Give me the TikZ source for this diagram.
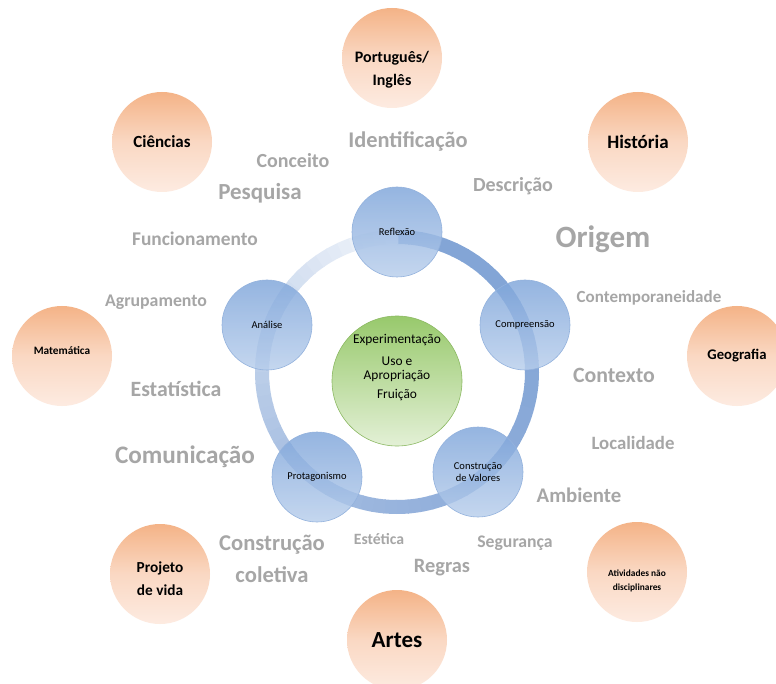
\documentclass[tikz,border=0pt]{standalone}
\usepackage{fontspec}
\setmainfont{Carlito}
\usetikzlibrary{positioning}
\definecolor{kwgray}{HTML}{A6A6A6}
\definecolor{orangetop}{HTML}{F4B387}
\definecolor{orangemid}{HTML}{FAD8C3}
\definecolor{orangebot}{HTML}{FDEBE1}
\definecolor{bluetop}{HTML}{7EA5DA}
\definecolor{bluebot}{HTML}{B8CEEC}
\definecolor{bluerim}{HTML}{93B2DD}
\definecolor{ringblue}{HTML}{7DA0D4}
\definecolor{greentop}{HTML}{98C96C}
\definecolor{greenbot}{HTML}{E3F0D6}
\definecolor{greenrim}{HTML}{8CB963}
\newcommand{\fsz}[1]{\fontsize{#1pt}{1.2\dimexpr #1pt\relax}\selectfont}
\tikzset{
  disc/.style={circle,inner sep=0pt,minimum size=100pt,top color=orangetop,bottom color=orangebot,middle color=orangemid,align=center},
  stage/.style={circle,inner sep=0pt,minimum size=90pt,draw=bluerim,line width=0.6pt,top color=bluetop,bottom color=bluebot,fill opacity=0.82,text opacity=1,align=center,font=\fsz{10.5}},
  core/.style={circle,inner sep=0pt,minimum size=130pt,draw=greenrim,line width=0.6pt,top color=greentop,bottom color=greenbot,align=center,font=\fsz{13.4}},
  kw/.style={text=kwgray,inner sep=0pt,font=\bfseries\fsz{#1}},
  ringseg/.style={line width=14pt}
}
\begin{document}
\begin{tikzpicture}[x=1pt,y=1pt]
\useasboundingbox (0,0) rectangle (776,-684);
\clip (0,0) rectangle (776,-684);
\fill[white] (0,0) rectangle (776,-684);
%
% ring, fading counterclockwise
\coordinate (ctr) at (397,-372);
\foreach \i in {0,...,71} {
  \pgfmathsetmacro{\s}{90-5*\i}
  \pgfmathtruncatemacro{\p}{90*(1-((\i+0.5)/72)^2.5)+6}
  \draw[ringseg,draw=ringblue!\p!white] ([shift={(\s:135pt)}]ctr) arc (\s:\s-5.6:135pt);
}
%
\node (refl) [stage] at (397,-232) {Reflexão};
\node (comp) [stage] at (525,-325) {Compreensão};
\node (valo) [stage] at (478,-472) {Construção\\[-1.5pt]de Valores};
\node (prot) [stage] at (317,-477) {Protagonismo};
\node (anal) [stage] at (267,-325) {Análise};
\node (expe) [core] at (397,-381) {Experimentação\\[5pt]Uso e\\[-2pt]Apropriação\\[3pt]Fruição\rule[-29pt]{0pt}{0pt}};
%
\node (port) [disc,font=\bfseries\fsz{16}] at (392,-58) {\rule{0pt}{34pt}Português/\\[4pt]Inglês};
\node (hist) [disc,font=\bfseries\fsz{19}] at (638,-142) {História};
\node (cien) [disc,font=\bfseries\fsz{17}] at (162,-142) {Ciências};
\node (mate) [disc,font=\bfseries\fsz{11.3}] at (62,-356) {Matemática\rule[-10pt]{0pt}{0pt}};
\node (geog) [disc,font=\bfseries\fsz{14.7}] at (737,-356) {Geografia};
\node (proj) [disc,font=\bfseries\fsz{15.3}] at (160,-574) {\rule{0pt}{20pt}Projeto\\[5pt]de vida};
\node (ativ) [disc,font=\bfseries\fsz{9.4}] at (637,-572) {\rule{0pt}{24pt}Atividades não\\[3pt]disciplinares};
\node (arte) [disc,font=\bfseries\fsz{23}] at (397,-640) {Artes};
%
\node (iden) [kw=22.4] at (408,-142) {Identificação};
\node (conc) [kw=20] at (293,-161) {Conceito};
\node (desc) [kw=20] at (513,-186) {Descrição};
\node (pesq) [kw=23] at (260,-193) {Pesquisa};
\node (orig) [kw=31] at (603,-239) {Origem};
\node (func) [kw=19.4] at (195,-239) {Funcionamento};
\node (cont) [kw=17] at (649,-298) {Contemporaneidade};
\node (agru) [kw=17.8] at (156,-302) {Agrupamento};
\node (ctxt) [kw=21.8] at (614,-375) {Contexto};
\node (esta) [kw=21.8] at (176,-389) {Estatística};
\node (loca) [kw=18.8] at (633,-443) {Localidade};
\node (comu) [kw=25.2] at (185,-457) {Comunicação};
\node (ambi) [kw=20.8] at (579,-495) {Ambiente};
\node (este) [kw=15.7] at (379,-539) {Estética};
\node (segu) [kw=17.7] at (515,-543) {Segurança};
\node (regr) [kw=20.4] at (442,-568) {Regras};
\node (coll) [kw=22.6,align=center] at (272,-559) {Construção\\[5pt]coletiva};
\end{tikzpicture}
\end{document}
